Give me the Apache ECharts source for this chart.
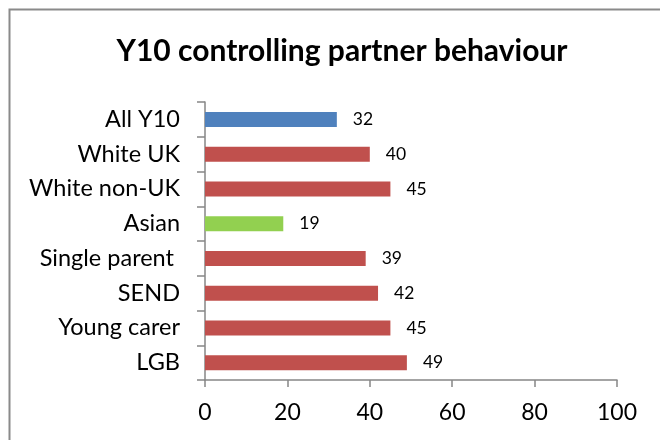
<!DOCTYPE html>
<html>
<head>
<meta charset="utf-8">
<script src="https://cdn.jsdelivr.net/npm/echarts@6/dist/echarts.min.js"></script>
<style>
  html, body { margin: 0; padding: 0; background: #fff; }
  #chart { width: 660px; height: 440px; }
</style>
</head>
<body>
<div id="chart"></div>
<script>
// Survey groups (top to bottom) and percentage reporting controlling partner behaviour
const categories = ['All Y10', 'White UK', 'White non-UK', 'Asian', 'Single parent ', 'SEND', 'Young carer', 'LGB'];
const values = [32, 40, 45, 19, 39, 42, 45, 49];
const barColors = ['#4F81BD', '#C0504D', '#C0504D', '#92D050', '#C0504D', '#C0504D', '#C0504D', '#C0504D'];
const xTicks = { min: 0, max: 100, interval: 20 };

const FONT = 'Lato, "Open Sans", sans-serif';
const AXIS_GREY = '#868686';
const chart = echarts.init(document.getElementById('chart'), null, { renderer: 'canvas' });

chart.setOption({
  animation: false,
  backgroundColor: '#ffffff',
  title: {
    text: 'Y10 controlling partner behaviour',
    left: 337,
    top: 31,
    textAlign: 'center',
    textStyle: { fontFamily: FONT, fontSize: 30, fontWeight: 'bold', color: '#000' }
  },
  graphic: [{
    type: 'rect',
    shape: { x: 9.5, y: 9.5, width: 700, height: 500 },
    style: { fill: 'none', stroke: '#8a8a8a', lineWidth: 2 },
    silent: true
  }],
  grid: { left: 205, right: 43, top: 102, bottom: 60, containLabel: false },
  xAxis: {
    type: 'value',
    min: xTicks.min, max: xTicks.max, interval: xTicks.interval,
    axisLine: { show: true, lineStyle: { color: AXIS_GREY, width: 1.5 } },
    axisTick: { show: true, length: 7, lineStyle: { color: AXIS_GREY, width: 1.5 } },
    splitLine: { show: false },
    axisLabel: { fontFamily: FONT, fontSize: 23, color: '#000', margin: 21 }
  },
  yAxis: {
    type: 'category',
    inverse: true,
    data: categories,
    axisLine: { show: true, lineStyle: { color: AXIS_GREY, width: 1.5 } },
    axisTick: { show: true, length: 8, lineStyle: { color: AXIS_GREY, width: 1.5 } },
    axisLabel: { fontFamily: FONT, fontSize: 23.5, color: '#000', margin: 25 }
  },
  series: [{
    type: 'bar',
    barWidth: 15,
    data: values.map((v, i) => ({ value: v, itemStyle: { color: barColors[i] } })),
    label: {
      show: true,
      position: 'right',
      distance: 16,
      fontFamily: FONT,
      fontSize: 17.5,
      color: '#000'
    }
  }]
});
</script>
</body>
</html>
